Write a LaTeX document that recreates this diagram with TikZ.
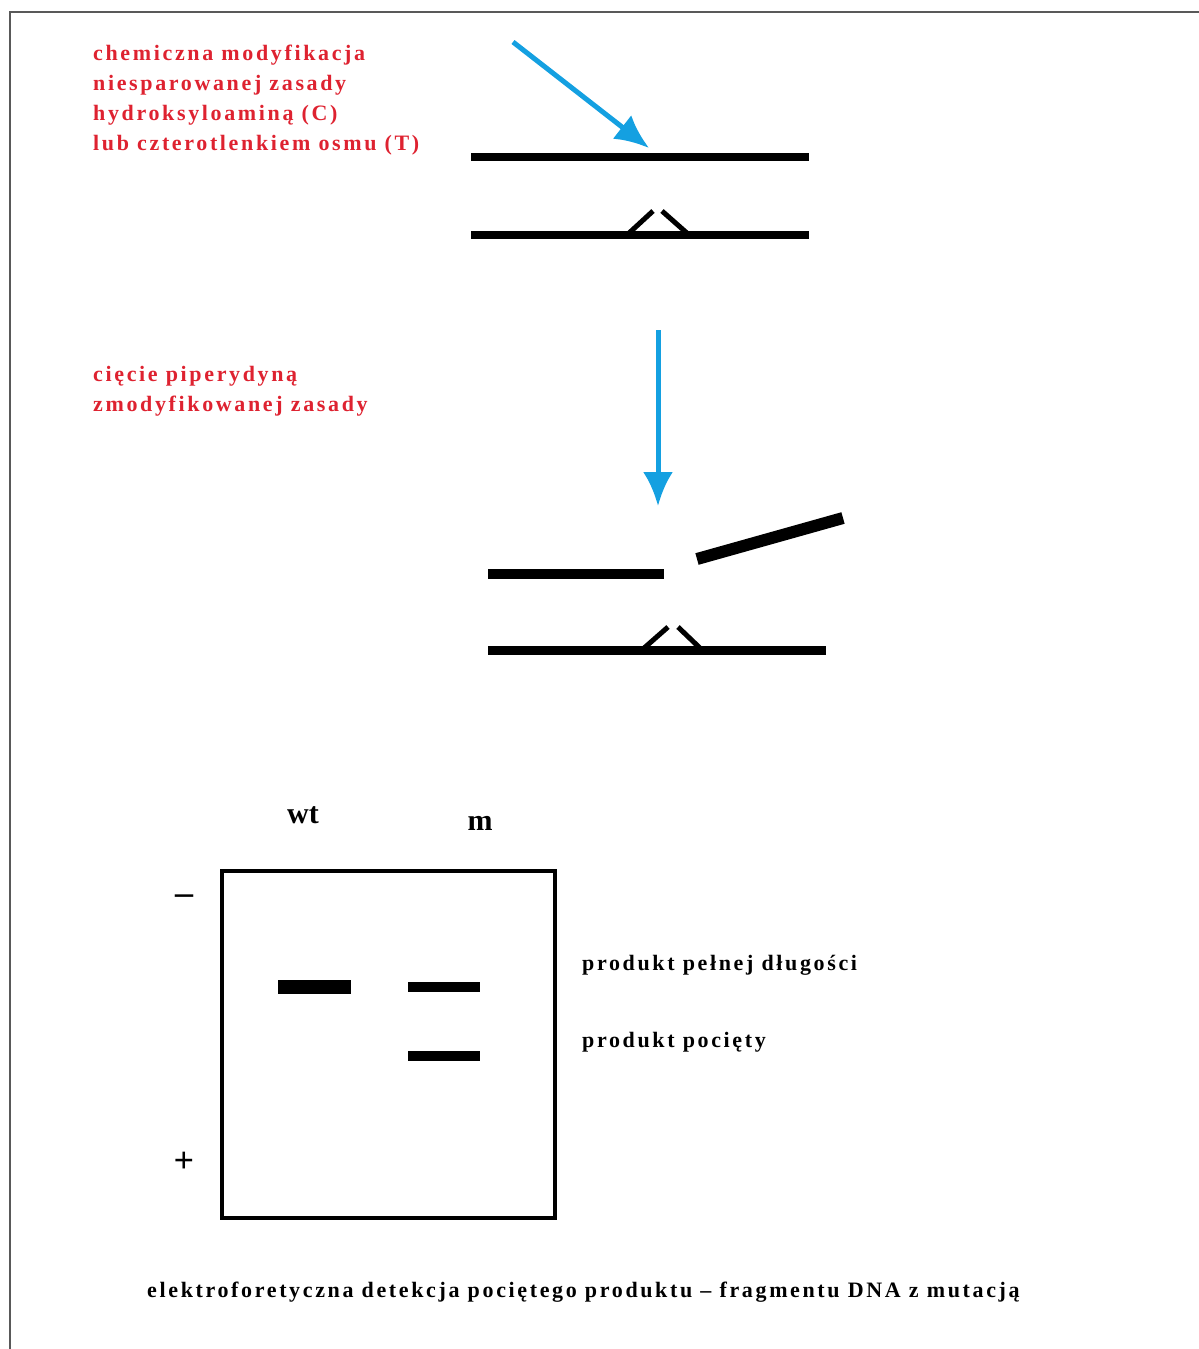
\documentclass[tikz,border=0pt]{standalone}
\usepackage{fontspec}
\setmainfont{Liberation Serif}
\newfontfamily\spacedfont[LetterSpace=12]{Liberation Serif}
\usetikzlibrary{arrows.meta,positioning}
\definecolor{cutred}{RGB}{222,34,48}
\definecolor{probeblue}{RGB}{20,160,225}
\tikzset{
strand/.style={line width=8pt},
hinge/.style={line width=5pt},
flowarrow/.style={draw=probeblue,line width=5pt,
  -{Latex[length=34pt,width=30pt]}},
note/.style={
  font=\spacedfont\bfseries\fontsize{22}{30}\selectfont,
  text=cutred,
  align=left,
  inner sep=0pt,
  anchor=north west
  },
gellabel/.style={
  font=\spacedfont\bfseries\fontsize{22}{30}\selectfont,
  inner sep=0pt,
  anchor=west
  },
pole/.style={font=\bfseries\fontsize{36}{36}\selectfont},
band/.style={line width=#1}
}

\begin{document}
\begin{tikzpicture}[>=latex,x=1pt,y=-1pt]
    \useasboundingbox (0,0) rectangle (1199,1349);
    % page frame
    \draw[black!65,line width=2.5pt] (10,1349) -- (10,12) -- (1199,12);

    % modification step
    \node[note] (modtxt) at (93,45)
        {chemiczna modyfikacja\\ niesparowanej zasady\\
         hydroksyloaminą (C)\\ lub czterotlenkiem osmu (T)};
    \coordinate (modfrom) at (513,42);
    \coordinate (modto) at (649,148);
    \draw[flowarrow] (modfrom) -- (modto);

    % heteroduplex before cleavage
    \draw[strand] (471,157) -- (809,157);
    \draw[strand] (471,235) -- (809,235);
    \draw[hinge] (628,234) -- (653,211);
    \draw[hinge] (662,211) -- (688,234);

    % cleavage step
    \node[note] (cuttxt) at (93,366)
        {cięcie piperydyną\\ zmodyfikowanej zasady};
    \coordinate (cutfrom) at (658,330);
    \coordinate (cutto) at (658,506);
    \draw[flowarrow] (cutfrom) -- (cutto);

    % heteroduplex after cleavage
    \draw[line width=10pt] (488,574) -- (664,574);
    \draw[line width=12pt] (697,559) -- (843,518);
    \draw[line width=9pt] (488,650) -- (826,650);
    \draw[hinge] (643,649) -- (668,627);
    \draw[hinge] (678,627) -- (701,649);

    % gel
    \node[font=\bfseries\fontsize{30}{30}\selectfont] (wt) at (303,815) {wt};
    \node[font=\bfseries\fontsize{30}{30}\selectfont] (mut) at (480,823) {m};
    \draw[line width=4pt] (222,871) rectangle (555,1218);
    \node[pole] (minus) at (184,900) {–};
    \node[pole] (plus) at (184,1162) {+};
    \draw[band=14pt] (278,987) -- (351,987);
    \draw[band=10pt] (408,987) -- (480,987);
    \draw[band=10pt] (408,1056) -- (480,1056);
    \node[gellabel] (full) at (582,965) {produkt pełnej długości};
    \node[gellabel] (cut) at (582,1042) {produkt pocięty};

    \node[gellabel] (caption) at (147,1292)
        {elektroforetyczna detekcja pociętego produktu – fragmentu DNA z mutacją};
\end{tikzpicture}
\end{document}
